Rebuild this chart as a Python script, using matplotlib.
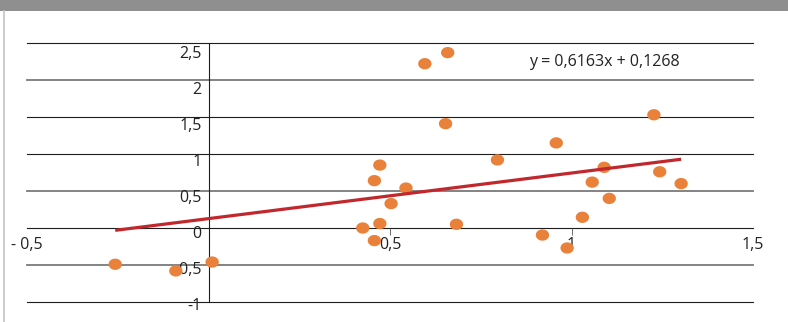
import numpy as np
import matplotlib
matplotlib.use("Agg")
import matplotlib.pyplot as plt
from matplotlib.path import Path
from matplotlib.patches import Rectangle
from matplotlib.lines import Line2D
import matplotlib.transforms as mtransforms

plt.rcParams['font.family'] = ['Open Sans', 'DejaVu Sans']

# ---- data ----
x_vals = [-0.257, -0.09, 0.01, 0.425, 0.457, 0.472, 0.503, 0.457, 0.472, 0.544,
          0.596, 0.659, 0.653, 0.683, 0.796, 0.92, 0.958, 0.988, 1.03, 1.057,
          1.09, 1.104, 1.227, 1.243, 1.302]
y_vals = [-0.49, -0.58, -0.46, 0.00, -0.17, 0.06, 0.33, 0.64, 0.85, 0.54,
          2.22, 2.37, 1.41, 0.05, 0.92, -0.095, 1.15, -0.27, 0.145, 0.62,
          0.82, 0.40, 1.53, 0.76, 0.60]
slope = 0.6163
intercept = 0.1268
equation_label = "y = 0,6163x + 0,1268"

x_ticks = [-0.5, 0.5, 1, 1.5]
x_tick_labels = ["- 0,5", "0,5", "1", "1,5"]
y_ticks = [2.5, 2, 1.5, 1, 0.5, 0, -0.5, -1]
y_tick_labels = ["2,5", "2", "1,5", "1", "0,5", "0", "-0,5", "-1"]
grid_dark = [True, False, True, True, False, True, False, True]

W, H = 788, 322
fig = plt.figure(figsize=(W / 100, H / 100), dpi=100)
fig.patch.set_facecolor('white')

# header bar and left border
fig.add_artist(Rectangle((0, 1 - 11 / H), 1, 11 / H, transform=fig.transFigure,
                         facecolor='#8f8f8f', edgecolor='none'))
fig.add_artist(Line2D([4 / W, 4 / W], [0, 1 - 11 / H], transform=fig.transFigure,
                      color='#c4c4c4', lw=1.2))

left, right, top, bottom = 27, 753, 43, 302
ax = fig.add_axes([left / W, 1 - bottom / H, (right - left) / W, (bottom - top) / H])
ax.set_xlim(-0.5, 1.5)
ax.set_ylim(-1, 2.5)
ax.patch.set_alpha(0)

# gridlines
for yv, dark in zip(y_ticks, grid_dark):
    if dark:
        ax.axhline(yv, color='#1e1e1e', lw=0.8, zorder=1, clip_on=False)
    else:
        ax.axhline(yv, color='#7a7a7a', lw=1.3, zorder=1, clip_on=False)
ax.axvline(0, color='#1e1e1e', lw=0.8, zorder=1, clip_on=False)

# spines
for s in ['top', 'right']:
    ax.spines[s].set_visible(False)
ax.spines['bottom'].set_position(('data', 0))
ax.spines['left'].set_position(('data', 0))
ax.spines['bottom'].set_color('none')
ax.spines['left'].set_color('none')

ax.set_xticks(x_ticks)
ax.set_xticklabels(x_tick_labels)
ax.set_yticks(y_ticks)
ax.set_yticklabels(y_tick_labels)
ax.tick_params(axis='x', direction='out', length=5, width=0.6, color='#555555',
               pad=1.5, labelsize=11.5, labelcolor='#222222')
ax.tick_params(axis='y', length=0, pad=5, labelsize=11.5, labelcolor='#222222')
xt = ax.xaxis.get_major_ticks()
xt[0].tick1line.set_visible(False)
xt[-1].tick1line.set_visible(False)
for lab, yv in zip(ax.get_yticklabels(), y_ticks):
    off = mtransforms.ScaledTranslation(0, -(4.5 + 2.0 * yv) / 100, fig.dpi_scale_trans)
    lab.set_transform(lab.get_transform() + off)

# elliptical marker
theta = np.linspace(0, 2 * np.pi, 60)
verts = np.column_stack([1.18 * np.cos(theta), np.sin(theta)])
ell = Path(verts, closed=True)

ax.scatter(x_vals, y_vals, marker=ell, s=9.6 ** 2, color='#e9813a',
           edgecolors='none', zorder=3, clip_on=False)

xs = np.array([min(x_vals), max(x_vals)])
ax.plot(xs, slope * xs + intercept, color='#c0282e', lw=2.3, zorder=4,
        solid_capstyle='butt')

ax.text(0.795, 0.927, equation_label, transform=ax.transAxes, ha='center',
        va='center', fontsize=11.5, color='#222222')

fig.savefig('out.png', dpi=100)
